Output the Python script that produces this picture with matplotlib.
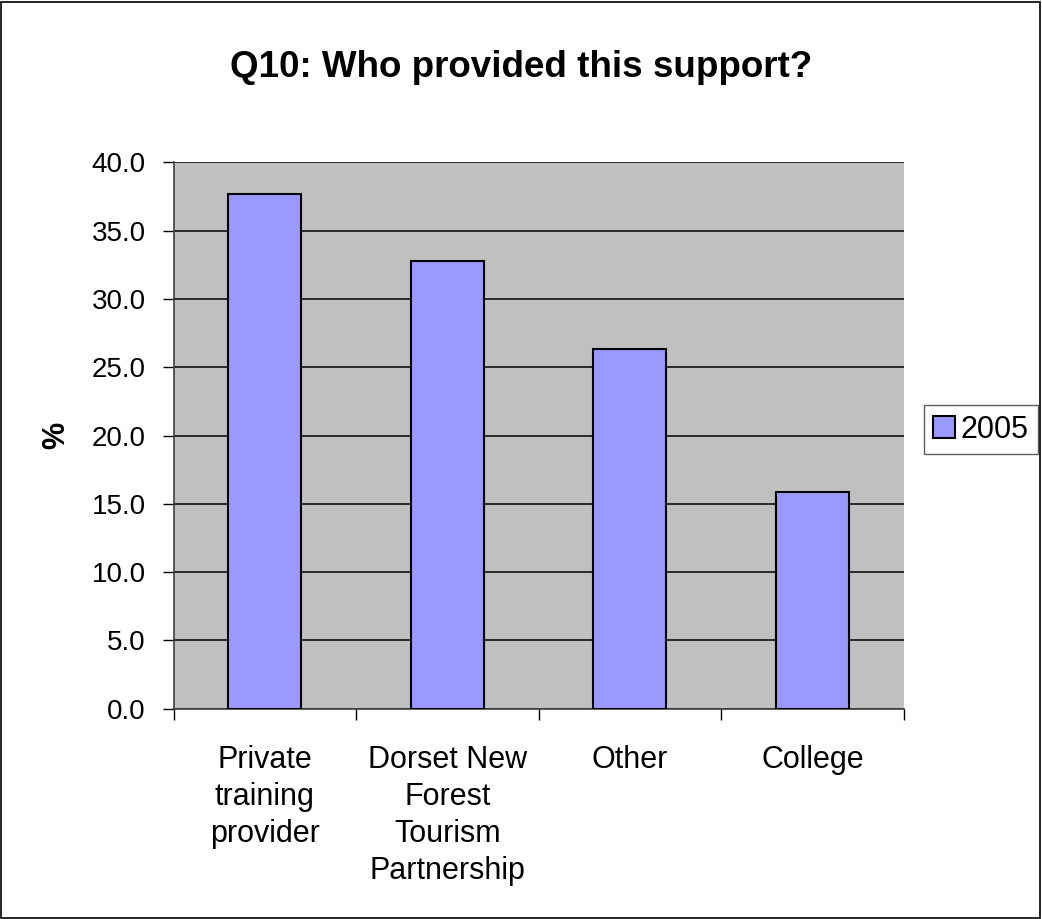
import matplotlib
matplotlib.use("Agg")
import matplotlib.pyplot as plt
from matplotlib.patches import Rectangle
import numpy as np

plt.rcParams['font.family'] = ['Liberation Sans', 'DejaVu Sans']

categories = ["Private\ntraining\nprovider", "Dorset New\nForest\nTourism\nPartnership", "Other", "College"]
values_2005 = [37.7, 32.8, 26.3, 15.9]
series_name = "2005"
yticks = [0, 5, 10, 15, 20, 25, 30, 35, 40]

fig = plt.figure(figsize=(10.42, 9.19), dpi=100)
fig.patch.set_facecolor('white')
fig.patches.append(Rectangle((0.001, 0.001), 0.997, 0.997, transform=fig.transFigure,
                             fill=False, edgecolor='black', linewidth=1.2))

ax = fig.add_axes([0.1666, 0.2288, 0.7006, 0.5946])
ax.set_facecolor('#c0c0c0')
x = np.arange(len(categories))
bars = ax.bar(x, values_2005, width=0.4, color='#9999ff', edgecolor='black',
              linewidth=1.5, label=series_name, zorder=3)
ax.set_xlim(-0.5, len(categories) - 0.5)
ax.set_ylim(0, 40)
ax.set_yticks(yticks)
ax.set_yticklabels([f"{v:.1f}" for v in yticks], fontsize=20)
ax.yaxis.grid(True, color='black', linewidth=1.1, zorder=1)
ax.set_axisbelow(True)

ax.set_xticks(np.arange(len(categories) + 1) - 0.5)
ax.set_xticklabels([])
ax.set_xticks(x, minor=True)
ax.set_xticklabels(categories, minor=True, fontsize=22, linespacing=1.3, va='top')
ax.tick_params(axis='x', which='minor', length=0, pad=26)
ax.tick_params(axis='x', which='major', length=8, width=1, direction='out')
ax.tick_params(axis='y', length=8, width=1, direction='out', pad=12)

for s in ['top', 'right']:
    ax.spines[s].set_visible(False)
ax.spines['left'].set_color('#404040')
ax.spines['bottom'].set_color('#404040')
ax.spines['left'].set_linewidth(1.2)
ax.spines['bottom'].set_linewidth(1.2)

ax.set_ylabel('%', fontsize=22, fontweight='bold', labelpad=15)

fig.text(0.5, 0.927, "Q10: Who provided this support?", ha='center', va='center',
         fontsize=26.5, fontweight='bold')

leg = fig.legend(handles=[bars], labels=[series_name], loc='center',
                 bbox_to_anchor=(0.9415, 0.5326), fontsize=22, frameon=True,
                 fancybox=False, edgecolor='#333333', handlelength=0.7, handleheight=0.7,
                 handletextpad=0.2, borderpad=0.3, borderaxespad=0)
leg.get_frame().set_linewidth(1.0)

fig.savefig('out.png', dpi=100, facecolor='white')
